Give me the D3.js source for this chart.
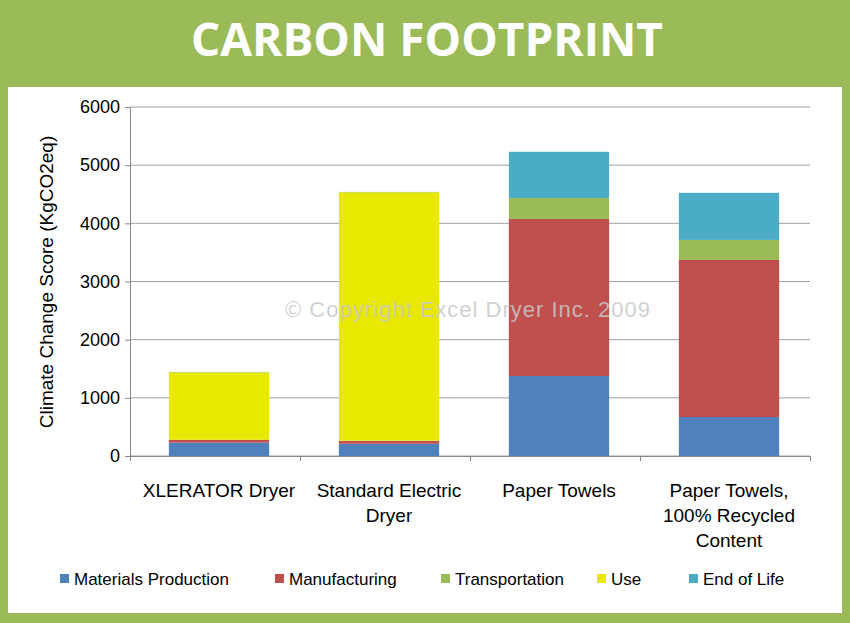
<!DOCTYPE html>
<html><head><meta charset="utf-8">
<script src="https://cdn.jsdelivr.net/npm/d3@7"></script>
<style>body{margin:0;background:#9bbb59;}svg{display:block;font-family:"Liberation Sans",Arial,sans-serif;}</style>
</head><body>
<script>
const categories = [["XLERATOR Dryer"], ["Standard Electric", "Dryer"], ["Paper Towels"], ["Paper Towels,", "100% Recycled", "Content"]];
const seriesNames = ["Materials Production", "Manufacturing", "Transportation", "Use", "End of Life"];
const colors = ["#4f81bd", "#c0504d", "#9bbb59", "#e8e800", "#4bacc6"];
const materials = [230, 210, 1375, 670];
const manufacturing = [45, 50, 2700, 2700];
const transportation = [5, 5, 360, 345];
const use = [1160, 4270, 0, 0];
const endOfLife = [5, 5, 795, 810];
const yTicks = [0, 1000, 2000, 3000, 4000, 5000, 6000];

const W = 850, H = 623;
const svg = d3.select("body").append("svg").attr("width", W).attr("height", H);
svg.append("rect").attr("width", W).attr("height", H).attr("fill", "#9bbb59");
svg.append("rect").attr("x", 8).attr("y", 87).attr("width", 834).attr("height", 526).attr("fill", "#fff");
svg.append("text").attr("x", 427).attr("y", 56).attr("text-anchor", "middle")
  .attr("fill", "#fff").attr("font-weight", "bold").attr("font-size", 46)
  .attr("font-family", "Open Sans, sans-serif").text("CARBON FOOTPRINT");

const x = d3.scaleBand().domain(d3.range(4)).range([134, 814]).paddingInner(0.41).paddingOuter(0.205);
const y = d3.scaleLinear().domain([0, 6000]).range([456, 107]);

svg.append("g").selectAll("line").data(yTicks).join("line")
  .attr("x1", 130).attr("x2", 810).attr("y1", d => y(d)).attr("y2", d => y(d))
  .attr("stroke", "#a0a0a0");

const yAxis = svg.append("g").attr("transform", "translate(130,0)")
  .call(d3.axisLeft(y).tickValues(yTicks).tickFormat(d3.format("d")).tickSize(5).tickSizeOuter(0));
yAxis.selectAll("text").attr("font-size", 18).attr("fill", "#000").attr("dx", -2);
yAxis.selectAll("line, path").attr("stroke", "#888");

const xAxis = svg.append("g").attr("transform", "translate(0,456)")
  .call(d3.axisBottom(d3.scaleLinear().domain([0, 4]).range([130, 810])).ticks(4).tickSize(5).tickFormat(""));
xAxis.selectAll("line, path").attr("stroke", "#888");

svg.append("text").attr("transform", "translate(53,282) rotate(-90)").attr("text-anchor", "middle")
  .attr("font-size", 19).text("Climate Change Score (KgCO2eq)");

const table = categories.map((c, i) => ({i, m: materials[i], f: manufacturing[i], t: transportation[i], u: use[i], e: endOfLife[i]}));
const stack = d3.stack().keys(["m", "f", "t", "u", "e"])(table);
svg.append("g").selectAll("g").data(stack).join("g").attr("fill", (d, k) => colors[k])
  .selectAll("rect").data(d => d).join("rect")
  .attr("x", d => x(d.data.i)).attr("width", x.bandwidth())
  .attr("y", d => y(d[1])).attr("height", d => y(d[0]) - y(d[1]));

svg.append("text").attr("x", 468).attr("y", 317).attr("text-anchor", "middle")
  .attr("font-size", 22).attr("fill", "#c8c8c8").attr("fill-opacity", 0.85)
  .attr("letter-spacing", 1).text("© Copyright Excel Dryer Inc. 2009");

const lab = svg.append("g").selectAll("text").data(categories).join("text")
  .attr("text-anchor", "middle").attr("font-size", 19)
  .attr("x", (d, i) => x(i) + x.bandwidth() / 2).attr("y", 497);
lab.selectAll("tspan").data(d => d).join("tspan")
  .attr("x", function() { return this.parentNode.getAttribute("x"); })
  .attr("dy", (d, j) => j ? 25 : 0).text(d => d);

const legX = [60, 275, 441, 597, 689];
const leg = svg.append("g").selectAll("g").data(seriesNames).join("g")
  .attr("transform", (d, i) => `translate(${legX[i]},579)`);
leg.append("rect").attr("y", -5).attr("width", 9).attr("height", 9).attr("fill", (d, i) => colors[i]);
leg.append("text").attr("x", 14).attr("y", 6).attr("font-size", 17).text(d => d);
</script>
</body></html>
